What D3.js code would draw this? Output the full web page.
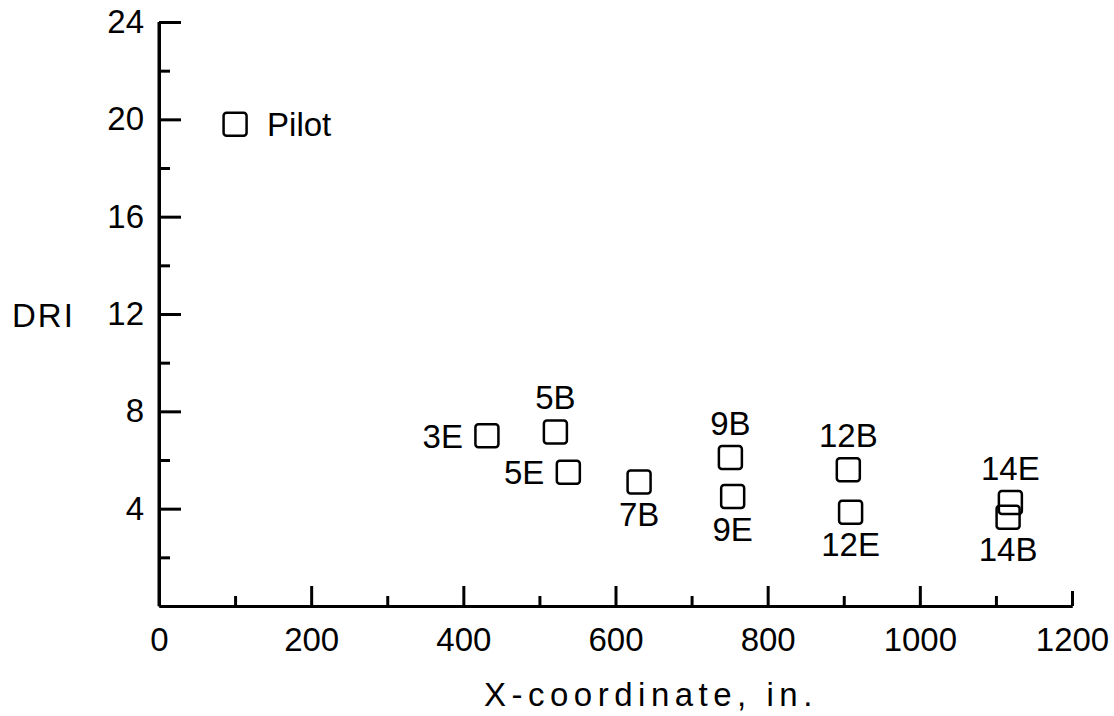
<!DOCTYPE html>
<meta charset="utf-8">
<head>
<style>
  body { margin: 0; background: #fff; }
  svg text { font-family: "Liberation Sans", Arial, sans-serif; fill: #000; }
  .axis path, .axis line { stroke: #000; stroke-width: 3; }
  .box { fill: none; stroke: #000; stroke-width: 2.5; }
</style>
</head>
<title>DRI vs X-coordinate</title>
<script src="https://d3js.org/d3.v7.min.js"></script>

<div id="chart"></div>
<script>

// station names, x-coordinate (in.), DRI value, where the label sits
var names  = ["Pilot", "3E", "5B", "5E", "7B", "9B", "9E", "12B", "12E", "14E", "14B"];
var xVals  = [100, 431, 521, 538, 631, 751, 754, 906, 909, 1119, 1116];
var driVals = [19.8, 7.0, 7.15, 5.5, 5.1, 6.1, 4.5, 5.6, 3.85, 4.25, 3.65];
var labelSide = ["right", "left", "above", "left", "below", "above", "below", "above", "below", "above", "below"];

var xMajor = [0, 200, 400, 600, 800, 1000, 1200];
var xMinor = [100, 300, 500, 700, 900, 1100];
var yMajor = [4, 8, 12, 16, 20, 24];
var yMinor = [2, 6, 10, 14, 18, 22];

var data = names.map(function(n, i) {
  return {name: n, x: xVals[i], y: driVals[i], side: labelSide[i]};
});

var W = 1114, H = 716;
var svg = d3.select("#chart").append("svg")
    .attr("width", W)
    .attr("height", H);

var x = d3.scaleLinear().domain([0, 1200]).range([159, 1072]);
var y = d3.scaleLinear().domain([0, 24]).range([606, 22]);

var fs = 33;

// x axis, ticks point up into the plot
svg.append("g")
    .attr("class", "axis")
    .attr("transform", "translate(0," + y(0) + ")")
    .call(d3.axisBottom(x).tickValues(xMinor).tickSizeInner(-10).tickSizeOuter(0).tickFormat(""));
var gx = svg.append("g")
    .attr("class", "axis")
    .attr("transform", "translate(0," + y(0) + ")")
    .call(d3.axisBottom(x).tickValues(xMajor).tickSizeInner(-20).tickSizeOuter(0).tickPadding(22).tickFormat(d3.format("d")));
gx.selectAll("text").style("font-size", fs + "px").attr("font-family", null);
gx.select(".tick line").remove(); // no tick at origin
gx.selectAll(".tick line").filter(function(d) { return d == 1200; }).attr("y2", -15);

// y axis, ticks point right
svg.append("g")
    .attr("class", "axis")
    .attr("transform", "translate(" + x(0) + ",0)")
    .call(d3.axisLeft(y).tickValues(yMinor).tickSizeInner(-11).tickSizeOuter(0).tickFormat(""));
var gy = svg.append("g")
    .attr("class", "axis")
    .attr("transform", "translate(" + x(0) + ",0)")
    .call(d3.axisLeft(y).tickValues(yMajor).tickSizeInner(-22).tickSizeOuter(0).tickPadding(15));
gy.selectAll("text").style("font-size", fs + "px").attr("font-family", null);
gy.select(".domain").attr("d", "M0," + y(0) + "V" + y(24));

// axis titles
svg.append("text")
    .attr("x", 12).attr("y", 327)
    .style("font-size", fs + "px")
    .style("letter-spacing", "2px")
    .text("DRI");

svg.append("text")
    .attr("x", 484).attr("y", 706)
    .style("font-size", fs + "px")
    .style("letter-spacing", "5.5px")
    .text("X-coordinate, in.");

// square markers
var s = 23;
svg.selectAll("rect.box")
  .data(data)
  .enter()
  .append("rect")
    .attr("class", "box")
    .attr("x", function(d) { return x(d.x) - s / 2; })
    .attr("y", function(d) { return y(d.y) - s / 2; })
    .attr("width", s)
    .attr("height", s)
    .attr("rx", 3);

// point labels
svg.selectAll("text.lbl")
  .data(data)
  .enter()
  .append("text")
    .attr("class", "lbl")
    .style("font-size", fs + "px")
    .attr("text-anchor", function(d) {
      if (d.side == "left") return "end";
      if (d.side == "right") return "start";
      return "middle";
    })
    .attr("x", function(d) {
      if (d.side == "left") return x(d.x) - 24;
      if (d.side == "right") return x(d.x) + 32;
      return x(d.x);
    })
    .attr("y", function(d) {
      if (d.side == "above") return y(d.y) - 23;
      if (d.side == "below") return y(d.y) + 44;
      return y(d.y) + 12;
    })
    .text(function(d) { return d.name; });

</script>
